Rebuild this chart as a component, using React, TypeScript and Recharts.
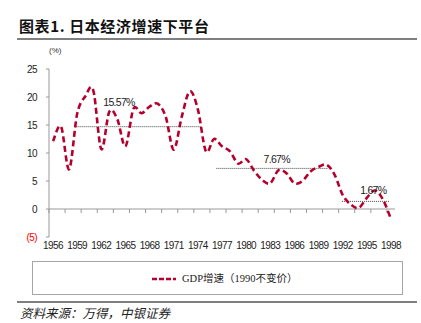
import React from 'react';
import { LineChart, Line, XAxis, YAxis, ReferenceLine, ReferenceDot } from 'recharts';

// Japan real GDP growth (%), 1990 constant prices
const years = [
  1956, 1957, 1958, 1959, 1960, 1961, 1962, 1963, 1964, 1965, 1966, 1967, 1968, 1969, 1970,
  1971, 1972, 1973, 1974, 1975, 1976, 1977, 1978, 1979, 1980, 1981, 1982, 1983, 1984, 1985,
  1986, 1987, 1988, 1989, 1990, 1991, 1992, 1993, 1994, 1995, 1996, 1997, 1998,
];
const gdpGrowth = [
  12.1, 14.7, 7.1, 17.0, 20.1, 21.2, 10.7, 17.4, 16.0, 11.2, 17.9, 17.1, 18.3, 18.8, 16.5,
  10.6, 16.5, 21.0, 17.8, 10.3, 12.5, 11.2, 10.3, 8.1, 8.9, 6.8, 5.2, 4.6, 6.9, 6.4,
  4.6, 5.0, 6.7, 7.5, 7.9, 6.1, 2.5, 0.8, 0.2, 2.0, 3.3, 1.7, -1.8,
];

const xTickLabels = [1956, 1959, 1962, 1965, 1968, 1971, 1974, 1977, 1980, 1983, 1986, 1989, 1992, 1995, 1998];
const yTicks = [-5, 0, 5, 10, 15, 20, 25];

// average plateaus: [from, to, level]
const avgFrom = [1958.9, 1976.3, 1991.9];
const avgTo = [1974.5, 1990.2, 1997.8];
const avgLevel = [14.7, 7.25, 1.36];
const avgText = ['15.57%', '7.67%', '1.67%'];
const avgLabelYear = [1964.2, 1983.8, 1995.8];
const avgLabelLevel = [19.0, 8.8, 3.4];

const data = years.map((year, i) => ({ year, gdp: gdpGrowth[i] }));

// axis tick marks every two years, on the zero line
const tickMarks: number[] = [];
for (let t = 1955.5; t < 1998; t += 2) tickMarks.push(t);

const RED = '#B5002D';
const GREY = '#999999';
const NUM_FONT = '"Liberation Sans", Arial, sans-serif';

// excel-style smoothing (catmull-rom through every point)
const excelSmooth = (context: any) => {
  let pts: number[][] = [];
  return {
    areaStart() {},
    areaEnd() {},
    lineStart() {
      pts = [];
    },
    point(x: number, y: number) {
      pts.push([+x, +y]);
    },
    lineEnd() {
      if (!pts.length) return;
      context.moveTo(pts[0][0], pts[0][1]);
      for (let i = 0; i < pts.length - 1; i++) {
        const p0 = pts[i - 1] || pts[i];
        const p1 = pts[i];
        const p2 = pts[i + 1];
        const p3 = pts[i + 2] || p2;
        context.bezierCurveTo(
          p1[0] + (p2[0] - p0[0]) / 6,
          p1[1] + (p2[1] - p0[1]) / 6,
          p2[0] - (p3[0] - p1[0]) / 6,
          p2[1] - (p3[1] - p1[1]) / 6,
          p2[0],
          p2[1]
        );
      }
    },
  };
};

const YTick = (props: any) => {
  const { x, y, payload } = props;
  const v = payload.value;
  return (
    <text
      x={x}
      y={y}
      dy={3.5}
      textAnchor="end"
      fontSize={10}
      fontFamily={NUM_FONT}
      letterSpacing={-0.6}
      fill={v < 0 ? '#FF0000' : '#222'}
    >
      {v < 0 ? `(${Math.abs(v)})` : v}
    </text>
  );
};

const greyRule = (top: number) => (
  <div style={{ position: 'absolute', left: 17, top, width: 400, height: 2, background: '#7f7f7f' }} />
);

export default function App() {
  return (
    <div style={{ position: 'absolute', left: 0, top: 0, width: 421, height: 323, background: '#fff', overflow: 'hidden' }}>
      <div
        style={{
          position: 'absolute',
          left: 19,
          top: 16,
          fontFamily: '"Noto Sans CJK SC", sans-serif',
          fontWeight: 700,
          fontSize: 15,
          letterSpacing: 0.6,
          lineHeight: '20px',
          color: '#111',
          whiteSpace: 'nowrap',
        }}
      >
        图表1. 日本经济增速下平台
      </div>
      {greyRule(38)}
      <div style={{ position: 'absolute', left: 49, top: 46, fontSize: 8, fontFamily: NUM_FONT, color: '#333' }}>(%)</div>

      <div style={{ position: 'absolute', left: 0, top: 0 }}>
        <LineChart width={421} height={323} data={data} margin={{ top: 69, right: 26, bottom: 66, left: 0 }}>
          <XAxis
            dataKey="year"
            type="number"
            domain={[1955.5, 1998.5]}
            ticks={xTickLabels}
            interval={0}
            axisLine={false}
            tickLine={false}
            tickSize={0}
            tickMargin={5}
            height={20}
            tick={{ fontSize: 10, fontFamily: NUM_FONT, fill: '#222', letterSpacing: -0.6 }}
          />
          <YAxis
            type="number"
            domain={[-5, 25]}
            ticks={yTicks}
            interval={0}
            width={49}
            axisLine={{ stroke: GREY }}
            tickLine={{ stroke: GREY }}
            tickSize={3}
            tickMargin={9}
            tick={<YTick />}
          />
          <ReferenceLine y={0} stroke={GREY} strokeWidth={1} />
          {tickMarks.map((t) => (
            <ReferenceLine
              key={t}
              segment={[
                { x: t, y: 0 },
                { x: t, y: -0.72 },
              ]}
              stroke={GREY}
              ifOverflow="visible"
            />
          ))}
          {avgLevel.map((lv, i) => (
            <ReferenceLine
              key={`avg-${i}`}
              segment={[
                { x: avgFrom[i], y: lv },
                { x: avgTo[i], y: lv },
              ]}
              stroke="#444"
              strokeWidth={1}
              strokeDasharray="1 1"
            />
          ))}
          <Line
            dataKey="gdp"
            type={excelSmooth as any}
            stroke={RED}
            strokeWidth={2.6}
            strokeDasharray="6 3.5"
            dot={false}
            activeDot={false}
            isAnimationActive={false}
          />
          {avgText.map((txt, i) => (
            <ReferenceDot
              key={`lbl-${i}`}
              x={avgLabelYear[i]}
              y={avgLabelLevel[i]}
              r={0}
              stroke="none"
              label={{
                value: txt,
                position: 'center',
                fontSize: 10.5,
                fontFamily: NUM_FONT,
                fill: '#222',
                letterSpacing: -0.7,
              }}
            />
          ))}
        </LineChart>
      </div>

      <div
        style={{
          position: 'absolute',
          left: 32,
          top: 261,
          width: 371,
          height: 34,
          border: '1px solid #a6a6a6',
          boxSizing: 'border-box',
        }}
      >
        <svg style={{ position: 'absolute', left: 119, top: 12 }} width={25} height={10}>
          <line x1={0} y1={5} x2={24} y2={5} stroke={RED} strokeWidth={2.6} strokeDasharray="5 2" />
        </svg>
        <div
          style={{
            position: 'absolute',
            left: 149,
            top: 9,
            fontSize: 10.5,
            lineHeight: '15px',
            fontFamily: '"Liberation Serif", "Noto Sans CJK SC", serif',
            color: '#222',
            whiteSpace: 'nowrap',
          }}
        >
          GDP增速（1990不变价）
        </div>
      </div>

      {greyRule(301)}
      <div
        style={{
          position: 'absolute',
          left: 20,
          top: 304,
          fontSize: 12.5,
          lineHeight: '18px',
          fontStyle: 'italic',
          fontFamily: '"Noto Sans CJK SC", sans-serif',
          color: '#222',
          whiteSpace: 'nowrap',
        }}
      >
        资料来源：万得，中银证券
      </div>
    </div>
  );
}
